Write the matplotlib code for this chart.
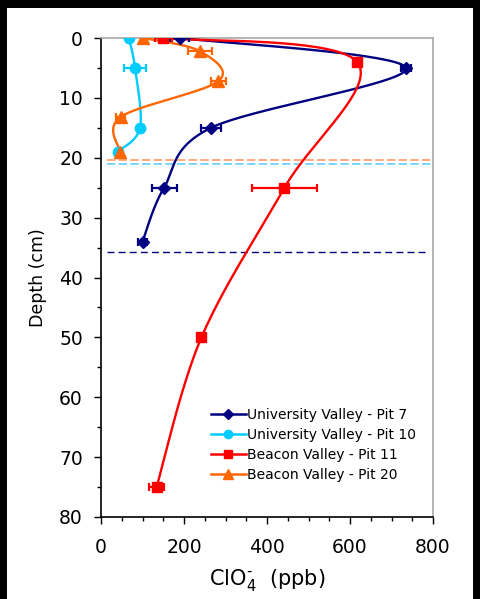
import numpy as np
import matplotlib.pyplot as plt
from matplotlib.patches import Rectangle
from matplotlib.ticker import MultipleLocator

plt.rcParams['font.family'] = ['DejaVu Sans']
plt.rcParams['mathtext.default'] = 'regular'

# --- data ---
pit7_x = [190, 735, 265, 152, 100]
pit7_y = [0, 5, 15, 25, 34]
pit7_err = [23, 12, 25, 30, 12]

pit10_x = [67, 82, 94, 40]
pit10_y = [0, 5, 15, 19]
pit10_err = [0, 27, 0, 0]

pit11_x = [150, 617, 442, 242, 134]
pit11_y = [0, 4, 25, 50, 75]
pit11_err = [21, 8, 78, 0, 18]

pit20_x = [102, 238, 283, 47, 46]
pit20_y = [0, 2.2, 7.2, 13.2, 19]
pit20_err = [0, 29, 18, 12, 0]

# bottom of each pit (dashed lines)
pit_bottoms = {'pit7': 35.7, 'pit10': 21.1, 'pit20': 20.4}

NAVY = '#000080'
CYAN = '#00CCFF'
RED = '#FF0000'
ORANGE = '#FF6600'


def smooth(xs, ys, sx, sy, n=40):
    # Excel-style smoothed line: bezier segments with catmull-rom control points,
    # computed in screen-ish units so the shape matches
    p = np.column_stack([np.asarray(xs, float) * sx, np.asarray(ys, float) * sy])
    p = np.vstack([p[0], p, p[-1]])
    out = []
    t = np.linspace(0, 1, n)[:, None]
    for i in range(1, len(p) - 2):
        a, b = p[i], p[i + 1]
        c1 = a + (p[i + 1] - p[i - 1]) / 6
        c2 = b - (p[i + 2] - p[i]) / 6
        seg = (1 - t) ** 3 * a + 3 * (1 - t) ** 2 * t * c1 + 3 * (1 - t) * t ** 2 * c2 + t ** 3 * b
        out.append(seg)
    out = np.vstack(out)
    return out[:, 0] / sx, out[:, 1] / sy


fig = plt.figure(figsize=(4.8, 5.99), dpi=100, facecolor='black')
fig.patches.append(Rectangle((7 / 480, 0), 466 / 480, 1 - 8 / 599, transform=fig.transFigure,
                             facecolor='white', edgecolor='none', zorder=-10))
ax = fig.add_axes([101 / 480, 1 - 517 / 599, 332 / 480, 479 / 599])

sx, sy = 332 / 800, 479 / 80
series = [
    (pit7_x, pit7_y, pit7_err, NAVY, 'D', 6, 5, 'University Valley - Pit 7'),
    (pit10_x, pit10_y, pit10_err, CYAN, 'o', 7.5, 6, 'University Valley - Pit 10'),
    (pit11_x, pit11_y, pit11_err, RED, 's', 6.5, 5.5, 'Beacon Valley - Pit 11'),
    (pit20_x, pit20_y, pit20_err, ORANGE, '^', 8, 6.5, 'Beacon Valley - Pit 20'),
]

for xs, ys, err, col, mk, ms, lms, lab in series:
    cx, cy = smooth(xs, ys, sx, sy)
    ax.plot(cx, cy, color=col, lw=1.7, zorder=3)
    ax.errorbar(xs, ys, xerr=err, fmt='none', ecolor=col, elinewidth=1.6, capsize=2.8,
                capthick=1.6, zorder=4)
    ax.plot(xs, ys, ls='none', marker=mk, ms=ms, color=col, zorder=5)
    ax.plot([], [], color=col, lw=1.8, marker=mk, ms=lms, label=lab)

ax.axhline(pit_bottoms['pit20'], xmin=0.018, xmax=1, color='#FF9966', lw=1.2, dashes=(5, 2))
ax.axhline(pit_bottoms['pit10'], xmin=0.018, xmax=1, color='#66CCFF', lw=1.2, dashes=(5, 2))
ax.axhline(pit_bottoms['pit7'], xmin=0.018, xmax=0.985, color=NAVY, lw=1.0, dashes=(5, 3))

ax.set_xlim(0, 800)
ax.set_ylim(80, 0)
ax.xaxis.set_major_locator(MultipleLocator(200))
ax.xaxis.set_minor_locator(MultipleLocator(50))
ax.yaxis.set_major_locator(MultipleLocator(10))
ax.yaxis.set_minor_locator(MultipleLocator(5))
ax.tick_params(which='major', direction='out', length=5, width=1, labelsize=13.5)
ax.tick_params(which='minor', direction='out', length=3, width=1)
ax.tick_params(axis='y', which='major', pad=8)
ax.tick_params(axis='x', which='major', pad=10)
ax.tick_params(top=False, right=False, which='both')

for s in ['top', 'right']:
    ax.spines[s].set_color('#A8A8A8')
    ax.spines[s].set_linewidth(1.2)
for s in ['left', 'bottom']:
    ax.spines[s].set_color('black')
    ax.spines[s].set_linewidth(1.2)

ax.set_ylabel('Depth (cm)', fontsize=12.5, labelpad=9)
ax.set_xlabel('ClO$_4^{\u2010}$  (ppb)', fontsize=15, labelpad=7)

ax.legend(loc='upper left', bbox_to_anchor=(110 / 332, 0.2275), frameon=False, fontsize=10,
          handlelength=2.5, handletextpad=0.1, labelspacing=0.42, borderaxespad=0, borderpad=0)

fig.savefig('out.png', dpi=100, facecolor=fig.get_facecolor())
